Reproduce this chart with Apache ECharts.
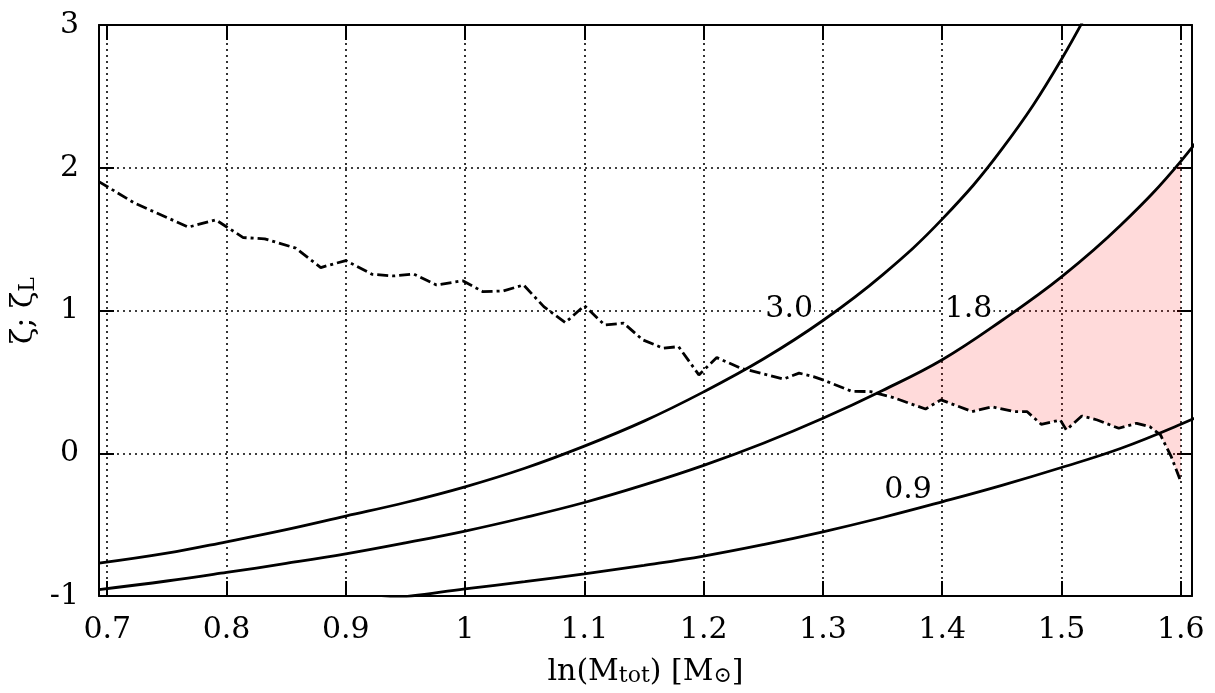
<!DOCTYPE html>
<html><head><meta charset="utf-8">
<script src="https://cdn.jsdelivr.net/npm/echarts@6/dist/echarts.min.js"></script>
<style>html,body{margin:0;padding:0;background:#fff}#c{width:1215px;height:693px}</style>
</head><body><div id="c"></div>
<script>
// Axis ranges and ticks
const X_MIN = 0.6931, X_MAX = 1.6094;
const X_TICKS = [0.7, 0.8, 0.9, 1.0, 1.1, 1.2, 1.3, 1.4, 1.5, 1.6];
const X_TICK_LABELS = ['0.7', '0.8', '0.9', '1', '1.1', '1.2', '1.3', '1.4', '1.5', '1.6'];
const Y_TICKS = [-1, 0, 1, 2, 3];
const Y_TICK_LABELS = ['-1', '0', '1', '2', '3'];

// zeta (dash-dot line)
const ZETA_X = [0.693, 0.723, 0.768, 0.791, 0.814, 0.832, 0.858, 0.879, 0.900, 0.922, 0.940, 0.957, 0.976, 0.998, 1.015, 1.032, 1.049, 1.066, 1.084, 1.100, 1.117, 1.133, 1.149, 1.166, 1.179, 1.196, 1.211, 1.231, 1.267, 1.280, 1.292, 1.300, 1.324, 1.340, 1.359, 1.386, 1.399, 1.425, 1.442, 1.460, 1.471, 1.483, 1.499, 1.504, 1.517, 1.530, 1.548, 1.563, 1.574, 1.583, 1.592, 1.600];
const ZETA_Y = [1.903, 1.752, 1.584, 1.635, 1.511, 1.502, 1.437, 1.301, 1.350, 1.254, 1.242, 1.255, 1.179, 1.208, 1.132, 1.137, 1.179, 1.027, 0.915, 1.034, 0.899, 0.911, 0.794, 0.736, 0.747, 0.549, 0.670, 0.596, 0.520, 0.561, 0.537, 0.514, 0.434, 0.432, 0.390, 0.310, 0.374, 0.292, 0.325, 0.292, 0.292, 0.203, 0.233, 0.163, 0.261, 0.233, 0.175, 0.210, 0.186, 0.128, -0.024, -0.199];

// zeta_L curves
const C30_X = [0.6931, 0.75, 0.8, 0.85, 0.9, 0.95, 1.0, 1.05, 1.1, 1.15, 1.2, 1.25, 1.3, 1.35, 1.4, 1.45, 1.5, 1.55];
const C30_Y = [-0.77, -0.70, -0.62, -0.535, -0.44, -0.345, -0.235, -0.105, 0.05, 0.225, 0.43, 0.66, 0.93, 1.25, 1.64, 2.13, 2.76, 3.55];
const C18_X = [0.6931, 0.75, 0.8, 0.85, 0.9, 0.95, 1.0, 1.05, 1.1, 1.15, 1.2, 1.25, 1.3, 1.35, 1.4, 1.45, 1.5, 1.55, 1.6, 1.65];
const C18_Y = [-0.955, -0.895, -0.835, -0.772, -0.705, -0.628, -0.545, -0.45, -0.345, -0.222, -0.085, 0.07, 0.245, 0.44, 0.655, 0.93, 1.235, 1.6, 2.045, 2.6];
const C09_X = [0.9, 0.955, 1.0, 1.05, 1.1, 1.15, 1.2, 1.25, 1.3, 1.35, 1.4, 1.45, 1.5, 1.55, 1.6, 1.65];
const C09_Y = [-1.05, -1.0, -0.95, -0.9, -0.845, -0.785, -0.72, -0.64, -0.55, -0.45, -0.34, -0.225, -0.10, 0.035, 0.203, 0.39];

// curve labels
const LABEL_TEXT = ['3.0', '1.8', '0.9'];
const LABEL_X = [1.2717, 1.4221, 1.3714];
const LABEL_Y = [1.011, 1.011, -0.258];

// shaded region range
const FILL_FROM = 1.345, FILL_TO = 1.6;

const FONT = 'DejaVu Serif';
const zip = (xs, ys) => xs.map((x, i) => [x, ys[i]]);

const zeta = zip(ZETA_X, ZETA_Y);
const c30 = zip(C30_X, C30_Y);
const c18 = zip(C18_X, C18_Y);
const c09 = zip(C09_X, C09_Y);

const fillTop = c18.filter(p => p[0] >= FILL_FROM && p[0] <= FILL_TO);
const fillBottom = zeta.filter(p => p[0] >= FILL_FROM && p[0] <= FILL_TO);

const solid = { color: '#000', width: 2.8, type: 'solid' };
const tickStyle = { color: '#000', width: 2 };
const gridStyle = { color: '#000', width: 1.6, type: [2, 4] };

const xLab = v => { const i = X_TICKS.findIndex(t => Math.abs(t - v) < 1e-6); return i >= 0 ? X_TICK_LABELS[i] : ''; };
const yLab = v => { const i = Y_TICKS.findIndex(t => Math.abs(t - v) < 1e-6); return i >= 0 ? Y_TICK_LABELS[i] : ''; };

const chart = echarts.init(document.getElementById('c'), null, { renderer: 'canvas' });
chart.setOption({
  animation: false,
  backgroundColor: '#fff',
  grid: { left: 99, right: 23, top: 25, bottom: 97, containLabel: false },
  xAxis: [{
    type: 'value', min: X_MIN, max: X_MAX, position: 'bottom',
    name: '{m|ln(M}{s|tot}{m|) [M}{s|⊙}{m|]}',
    nameLocation: 'middle', nameGap: 61,
    nameTextStyle: {
      rich: {
        m: { fontFamily: FONT, fontSize: 30, color: '#000', lineHeight: 30 },
        s: { fontFamily: FONT, fontSize: 22, color: '#000', lineHeight: 10, verticalAlign: 'bottom' }
      }
    },
    axisLine: { show: true, onZero: false, lineStyle: { color: '#000', width: 2 } },
    axisTick: { show: true, inside: true, length: 15, lineStyle: tickStyle, customValues: X_TICKS },
    axisLabel: { customValues: X_TICKS, formatter: xLab, fontFamily: FONT, fontSize: 30, color: '#000', margin: 19 },
    splitLine: { show: true, lineStyle: gridStyle }
  }, {
    type: 'value', min: X_MIN, max: X_MAX, position: 'top',
    axisLine: { show: true, onZero: false, lineStyle: { color: '#000', width: 2 } },
    axisTick: { show: true, inside: true, length: 15, lineStyle: tickStyle, customValues: X_TICKS },
    axisLabel: { show: false, customValues: X_TICKS },
    splitLine: { show: false }
  }],
  yAxis: [{
    type: 'value', min: -1, max: 3, interval: 1, position: 'left',
    name: '{m|ζ; ζ}{s|L}',
    nameLocation: 'middle', nameGap: 44,
    nameTextStyle: {
      rich: {
        m: { fontFamily: FONT, fontSize: 30, color: '#000', lineHeight: 30 },
        s: { fontFamily: FONT, fontSize: 22, color: '#000', lineHeight: 10, verticalAlign: 'bottom' }
      }
    },
    axisLine: { show: true, onZero: false, lineStyle: { color: '#000', width: 2 } },
    axisTick: { show: true, inside: true, length: 15, lineStyle: tickStyle },
    axisLabel: { formatter: yLab, fontFamily: FONT, fontSize: 30, color: '#000', margin: 20 },
    splitLine: { show: true, lineStyle: gridStyle }
  }, {
    type: 'value', min: -1, max: 3, interval: 1, position: 'right',
    axisLine: { show: true, onZero: false, lineStyle: { color: '#000', width: 2 } },
    axisTick: { show: true, inside: true, length: 15, lineStyle: tickStyle },
    axisLabel: { show: false },
    splitLine: { show: false }
  }],
  series: [
    {
      type: 'custom', xAxisIndex: 0, yAxisIndex: 0, z: 1, silent: true,
      data: [[FILL_FROM, 0]],
      renderItem: function (params, api) {
        const pts = fillTop.map(p => api.coord(p)).concat(fillBottom.slice().reverse().map(p => api.coord(p)));
        return { type: 'polygon', shape: { points: pts }, style: { fill: 'rgba(255,0,0,0.145)', stroke: null } };
      }
    },
    { type: 'line', data: c30, showSymbol: false, smooth: 0.4, lineStyle: solid, z: 3, silent: true, clip: true },
    { type: 'line', data: c18, showSymbol: false, smooth: 0.4, lineStyle: solid, z: 3, silent: true, clip: true },
    { type: 'line', data: c09, showSymbol: false, smooth: 0.4, lineStyle: solid, z: 3, silent: true, clip: true },
    { type: 'line', data: zeta, showSymbol: false, smooth: false, lineStyle: { color: '#000', width: 2.8, type: [11, 4, 3, 4] }, z: 3, silent: true },
    {
      type: 'custom', z: 6, silent: true,
      data: LABEL_X.map((x, i) => [x, LABEL_Y[i], i]),
      renderItem: function (params, api) {
        const c = api.coord([api.value(0), api.value(1)]);
        const idx = api.value(2);
        const t = LABEL_TEXT[idx];
        return {
          type: 'text', x: c[0], y: c[1], z2: 10,
          style: {
            text: t, fill: '#000', fontFamily: FONT, fontSize: 30,
            align: 'center', verticalAlign: 'middle',
            backgroundColor: idx < 2 ? '#fff' : null, padding: [0, 1]
          }
        };
      }
    }
  ]
});
</script>
</body></html>
